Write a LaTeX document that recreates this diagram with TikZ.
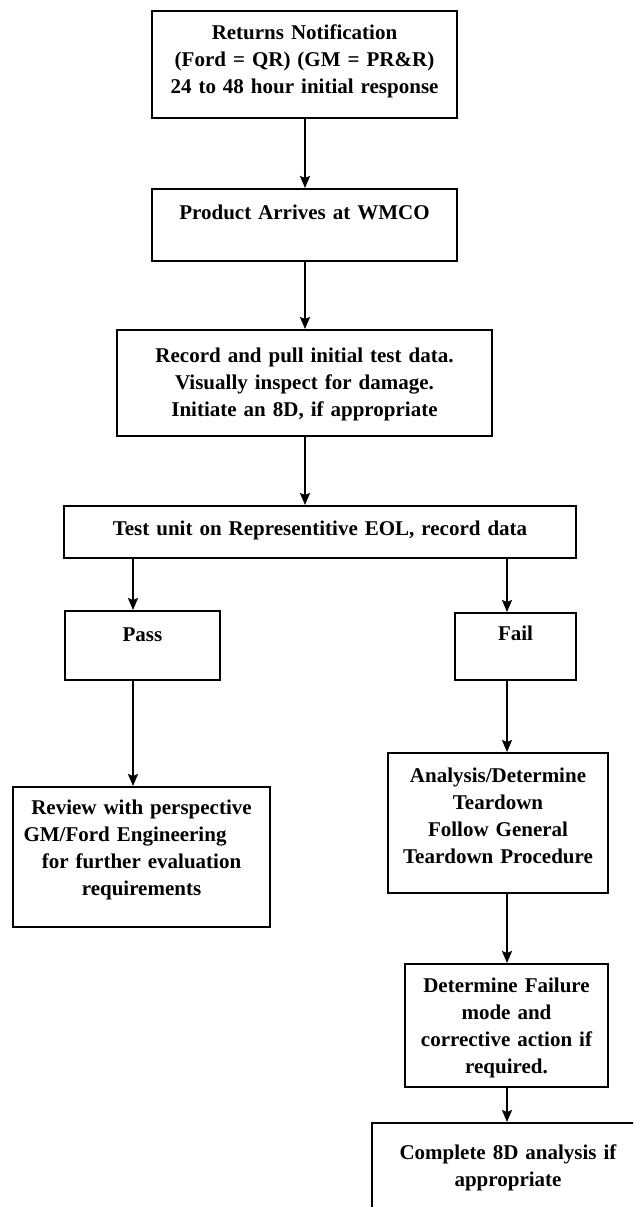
\documentclass[tikz,border=0pt]{standalone}
\usepackage{fontspec}
\setmainfont{Liberation Serif}
\usetikzlibrary{arrows.meta}

\begin{document}
\begin{tikzpicture}[
    x=1pt, y=-1pt,
    >={Stealth[length=12pt,width=10pt,inset=2pt]},
    bx/.style={draw, line width=2pt, inner sep=0pt, align=center, anchor=north,
               font=\fontsize{21}{27}\selectfont\bfseries},
    flow/.style={->, line width=2pt}
  ]
  \useasboundingbox (0,0) rectangle (633,1207);
  \clip (0,0) rectangle (633,1207);
  \coordinate (cm) at (305,0);
  \coordinate (cl) at (133,0);
  \coordinate (cr) at (507,0);
  \node[bx, text width=305pt, text height=29pt, text depth=78pt] (notif) at (304.5,10)
    {Returns Notification\\(Ford = QR) (GM = PR\&R)\\24 to 48 hour initial response};
  \node[bx, text width=305pt, text height=30pt, text depth=42pt] (arrive) at (304.5,188)
    {Product Arrives at WMCO};
  \node[bx, text width=375pt, text height=32pt, text depth=74pt] (record) at (304.5,329)
    {Record and pull initial test data.\\Visually inspect for damage.\\Initiate an 8D, if appropriate};
  \node[bx, text width=512pt, text height=29pt, text depth=23pt] (test) at (320,505)
    {Test unit on Representitive EOL, record data};
  \node[bx, text width=155pt, text height=30pt, text depth=39pt] (pass) at (142.5,610) {Pass};
  \node[bx, text width=121pt, text height=27pt, text depth=40pt] (fail) at (515.5,612) {Fail};
  \node[bx, text width=257pt, text height=27pt, text depth=113pt] (review) at (141.5,786)
    {Review with perspective\\GM/Ford Engineering\makebox[33pt]{}\\for further evaluation\\requirements};
  \node[bx, text width=220pt, text height=29pt, text depth=111pt] (teardown) at (498,752)
    {Analysis/Determine\\Teardown\\Follow General\\Teardown Procedure};
  \node[bx, text width=203pt, text height=28pt, text depth=95pt] (failmode) at (506.5,963)
    {Determine Failure\\mode and\\corrective action if\\required.};
  \node[bx, text width=272pt, text height=36pt, text depth=72pt] (complete) at (508,1122)
    {Complete 8D analysis if\\appropriate};
  \draw[flow] (notif.south -| cm) -- (arrive.north -| cm);
  \draw[flow] (arrive.south -| cm) -- (record.north -| cm);
  \draw[flow] (record.south -| cm) -- (test.north -| cm);
  \draw[flow] (test.south -| cl) -- (pass.north -| cl);
  \draw[flow] (test.south -| cr) -- (fail.north -| cr);
  \draw[flow] (pass.south -| cl) -- (review.north -| cl);
  \draw[flow] (fail.south -| cr) -- (teardown.north -| cr);
  \draw[flow] (teardown.south -| cr) -- (failmode.north -| cr);
  \draw[flow] (failmode.south -| cr) -- (complete.north -| cr);
\end{tikzpicture}
\end{document}
